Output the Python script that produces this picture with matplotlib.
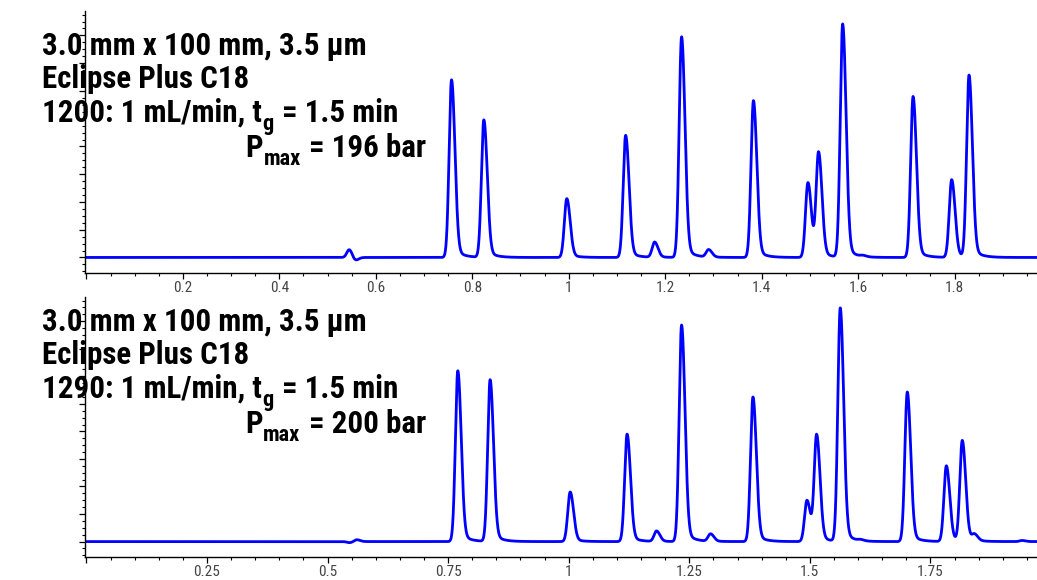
import numpy as np
import matplotlib
matplotlib.use("Agg")
import matplotlib.pyplot as plt
from matplotlib.ticker import MultipleLocator, FuncFormatter
from matplotlib import font_manager
from matplotlib.font_manager import FontProperties

# look for a condensed / narrow face, the chart uses a bold condensed font
def wnum(w):
    if isinstance(w, str):
        return font_manager.weight_dict.get(w, 400)
    return w

prefs = ["liberation sans narrow", "roboto condensed", "open sans condensed",
         "noto sans", "dejavu sans", "lato", "inter"]
bold_path = None
reg_path = None
found = []
for f in font_manager.fontManager.ttflist:
    n = f.name.lower()
    fn = f.fname.lower()
    cond = ("narrow" in n or "condensed" in n or "condensed" in fn or "narrow" in fn
            or str(f.stretch).lower() in ("condensed", "semi-condensed", "extra-condensed"))
    if not cond or f.style != "normal" or "semi" in fn or "extra" in fn:
        continue
    rank = next((i for i, p in enumerate(prefs) if n.startswith(p)), 99)
    found.append((rank, wnum(f.weight), f.fname))
found.sort()
for rank, w, fn in found:
    if w >= 700 and bold_path is None:
        bold_path = fn
    if w == 400 and reg_path is None:
        reg_path = fn

if bold_path:
    fp_bold = FontProperties(fname=bold_path)
else:
    fp_bold = FontProperties(family="Liberation Sans", weight="bold")
if reg_path:
    fp_reg = FontProperties(fname=reg_path)
else:
    fp_reg = FontProperties(family="Liberation Sans")

# peak tables: retention time (min), height (arb. units)
rt_1200 = [0.545, 0.556, 0.757, 0.824, 0.996, 1.118, 1.178, 1.234, 1.290, 1.383,
           1.496, 1.518, 1.568, 1.610, 1.714, 1.794, 1.830]
h_1200 = [2.9, -1.4, 64.0, 49.5, 21.2, 44.0, 5.5, 79.5, 2.7, 56.5,
          27.0, 37.5, 84.0, 0.4, 58.0, 28.0, 65.5]

rt_1290 = [0.545, 0.560, 0.770, 0.837, 1.003, 1.121, 1.182, 1.234, 1.294, 1.382,
           1.494, 1.514, 1.563, 1.605, 1.702, 1.783, 1.816, 1.841, 1.940]
h_1290 = [-0.4, 0.7, 62.0, 58.7, 18.0, 39.0, 3.8, 78.6, 2.7, 52.5,
          15.0, 38.5, 84.7, 0.4, 54.3, 27.5, 36.5, 2.3, 0.4]

# text pieces: (string, subscript?)
lines_1200 = [[("3.0 mm x 100 mm, 3.5 µm", False)],
              [("Eclipse Plus C18", False)],
              [("1200: 1 mL/min, t", False), ("g", True), ("= 1.5 min", False)],
              [("P", False), ("max", True), ("= 196 bar", False)]]
lines_1290 = [[("3.0 mm x 100 mm, 3.5 µm", False)],
              [("Eclipse Plus C18", False)],
              [("1290: 1 mL/min, t", False), ("g", True), ("= 1.5 min", False)],
              [("P", False), ("max", True), ("= 200 bar", False)]]

t = np.linspace(0, 2.0, 8001)


def trace(rts, hs, sl=0.0050, sr=0.0068, tau=0.016):
    y = np.zeros_like(t)
    for r, h in zip(rts, hs):
        d = t - r
        core = np.where(d < 0, np.exp(-0.5 * (d / sl) ** 2), np.exp(-0.5 * (d / sr) ** 2))
        tail = np.where(d > 0, 0.07 * np.exp(-d / tau) * (1 - np.exp(-(d / sr) ** 2)), 0)
        y += h * (core + tail)
    return y


fig = plt.figure(figsize=(10.37, 5.80), dpi=100)
W, H = 1037.0, 580.0
renderer = fig.canvas.get_renderer()


def width_of(s, size, fp):
    tt = fig.text(0, 0, s, fontproperties=fp, fontsize=size)
    w = tt.get_window_extent(renderer).width
    tt.remove()
    return w


# size the heading font so the first line is about 325 px wide as in the chart
size = 21.5
size = float(np.clip(size * 325.0 / width_of("3.0 mm x 100 mm, 3.5 µm", size, fp_bold), 16, 23))
sub_size = size * 0.72
space = width_of("a a", size, fp_bold) - width_of("aa", size, fp_bold)


def draw_line(x, y, pieces, right=False):
    ws = []
    for s, sub in pieces:
        ws.append(width_of(s, sub_size if sub else size, fp_bold))
    gaps = [0] + [(space * 1.15 if s.startswith("=") else 1.0) if not sub else 0.5
                  for s, sub in pieces[1:]]
    total = sum(ws) + sum(gaps)
    cx = x - total if right else x
    for (s, sub), w, g in zip(pieces, ws, gaps):
        cx += g
        yy = y + (8 if sub else 0)
        fig.text(cx / W, 1 - yy / H, s, fontproperties=fp_bold,
                 fontsize=sub_size if sub else size, va="baseline", ha="left")
        cx += w


def make_axes(bottom_px, top_px, step, rts, hs, lines, base):
    ax = fig.add_axes([85 / W, 1 - bottom_px / H, 966 / W, (bottom_px - top_px) / H])
    ax.plot(t, trace(rts, hs), color="#0000ff", lw=2.0)
    ax.set_xlim(-0.003, 2.0)
    ax.set_ylim(-5.6, 88.8)
    for s in ["top", "right"]:
        ax.spines[s].set_visible(False)
    ax.spines["left"].set_linewidth(1.0)
    ax.spines["bottom"].set_linewidth(1.0)
    ax.xaxis.set_major_locator(MultipleLocator(step))
    ax.xaxis.set_minor_locator(MultipleLocator(0.05))
    ax.xaxis.set_major_formatter(FuncFormatter(lambda v, p: "" if abs(v) < 1e-9 else "%g" % v))
    ax.yaxis.set_major_locator(MultipleLocator(10))
    ax.yaxis.set_minor_locator(MultipleLocator(2.5))
    ax.yaxis.set_major_formatter(FuncFormatter(lambda v, p: ""))
    ax.tick_params(which="major", direction="out", length=4, width=0.9,
                   labelcolor="#444444", pad=2)
    ax.tick_params(which="minor", direction="out", length=2.2, width=0.8)
    for lbl in ax.get_xticklabels():
        lbl.set_fontproperties(fp_reg)
        lbl.set_fontsize(11)
    ys = [base, base + 33, base + 67, base + 102]
    for i in range(3):
        draw_line(42, ys[i], lines[i])
    draw_line(426, ys[3], lines[3], right=True)
    return ax


make_axes(273, 11, 0.2, rt_1200, h_1200, lines_1200, 55)
make_axes(557, 297, 0.25, rt_1290, h_1290, lines_1290, 331)

fig.savefig("out.png", dpi=100)
